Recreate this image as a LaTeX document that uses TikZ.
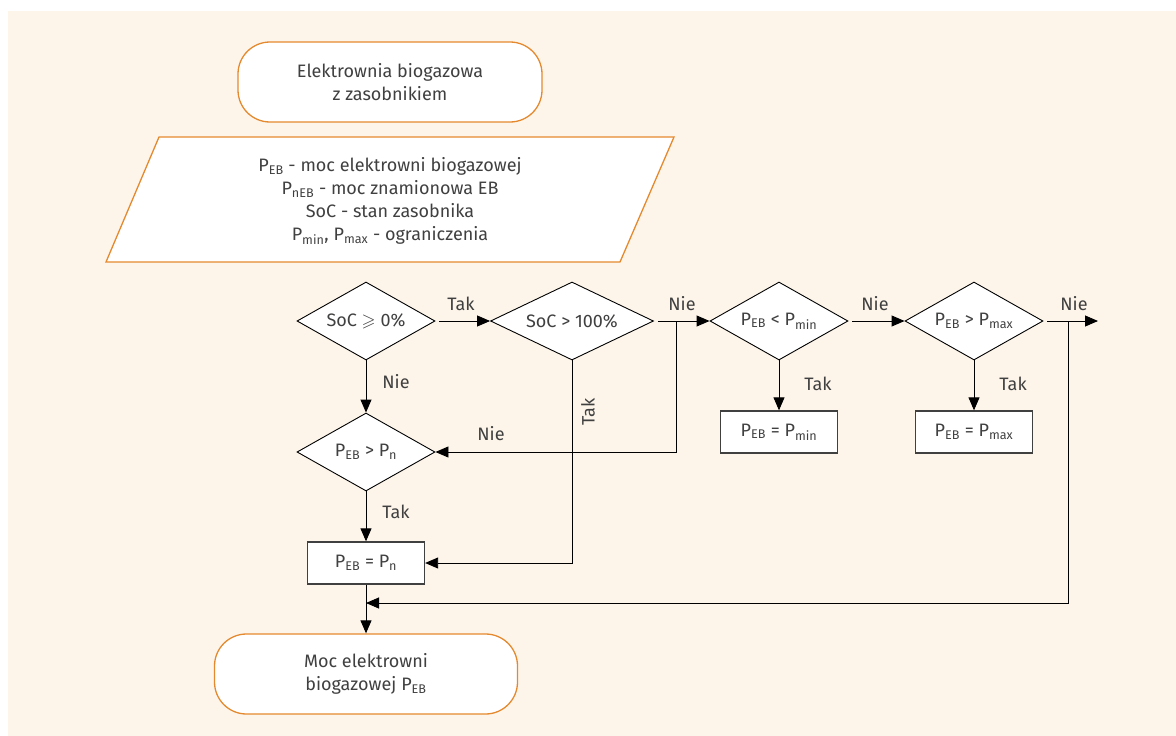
\documentclass[tikz,border=0pt]{standalone}
\usepackage{fontspec}
\setmainfont{Fira Sans}
\usepackage{amssymb}
\usetikzlibrary{shapes.geometric,arrows.meta}
\definecolor{bg}{HTML}{FDF5EA}
\definecolor{orng}{HTML}{E5892F}
\definecolor{txt}{HTML}{404040}
\begin{document}
\begin{tikzpicture}[x=1pt,y=-1pt,
  every node/.style={font=\fontsize{18}{23}\selectfont, text=txt},
  term/.style={draw=orng, line width=1.3pt, fill=white, rounded corners=32pt, minimum width=304pt, minimum height=80pt, align=center},
  dec/.style={draw=black, line width=0.9pt, fill=white, diamond, shape aspect=2, inner sep=0pt, minimum width=138pt, minimum height=78pt},
  proc/.style={draw=txt, line width=1.3pt, fill=white, minimum width=117pt, minimum height=42pt, inner sep=0pt},
  conn/.style={draw=black, line width=0.9pt, -{Triangle[length=13pt,width=11pt]}},
  gap/.style={shorten <=4pt},
  lbl/.style={inner sep=0pt}
]
\useasboundingbox (0,0) rectangle (1176,736);
\fill[bg] (8,11) rectangle (1176,736);

\node[term] (start) at (390,82) {Elektrownia biogazowa\\z zasobnikiem};
\draw[orng, line width=1.3pt, fill=white] (159,137) -- (674,137) -- (620,262) -- (106,262) -- cycle;
\node[align=center] (params) at (390,201) {P\textsubscript{EB} - moc elektrowni biogazowej\\P\textsubscript{nEB} - moc znamionowa EB\\SoC - stan zasobnika\\P\textsubscript{min}, P\textsubscript{max} - ograniczenia};

\node[dec] (d1) at (366,321) {SoC $\geqslant$ 0\%};
\node[dec, minimum width=163pt] (d2) at (572,321) {SoC > 100\%};
\node[dec] (d3) at (779,321) {P\textsubscript{EB} < P\textsubscript{min}};
\node[dec] (d4) at (974,321) {P\textsubscript{EB} > P\textsubscript{max}};
\node[dec] (d5) at (366,452) {P\textsubscript{EB} > P\textsubscript{n}};

\node[proc] (bmin) at (779,432) {P\textsubscript{EB} = P\textsubscript{min}};
\node[proc] (bmax) at (974,432) {P\textsubscript{EB} = P\textsubscript{max}};
\node[proc] (bn) at (366,563) {P\textsubscript{EB} = P\textsubscript{n}};
\node[term, minimum width=303pt] (end) at (366,674) {Moc elektrowni\\biogazowej P\textsubscript{EB}};

\coordinate (j1) at (676,321);
\coordinate (j2) at (1068,321);
\coordinate (out) at (1098,321);
\coordinate (m) at (366,603);

\draw[conn, gap] (d1) -- (d2);
\draw[conn, gap] (d2) -- (d3);
\draw[conn] (j1) |- (d5.east);
\draw[conn] (d1) -- (d5);
\draw[conn] (d2.south) |- (bn.east);
\draw[conn, gap] (d3) -- (d4);
\draw[conn] (d3) -- (bmin);
\draw[conn] (d4) -- (bmax);
\draw[conn, gap] (d4) -- (out);
\draw[conn] (j2) |- (m);
\draw[conn] (d5) -- (bn);
\draw[conn] (bn) -- (end);

\node[lbl] (t1) at (461,304) {Tak};
\node[lbl] (n1) at (682,304) {Nie};
\node[lbl] (n2) at (491,434) {Nie};
\node[lbl] (n3) at (396,382) {Nie};
\node[lbl, rotate=90] (t2) at (588,412) {Tak};
\node[lbl] (n4) at (875,304) {Nie};
\node[lbl] (t3) at (818,384) {Tak};
\node[lbl] (t4) at (1013,384) {Tak};
\node[lbl] (n5) at (1074,304) {Nie};
\node[lbl] (t5) at (396,512) {Tak};
\end{tikzpicture}
\end{document}
